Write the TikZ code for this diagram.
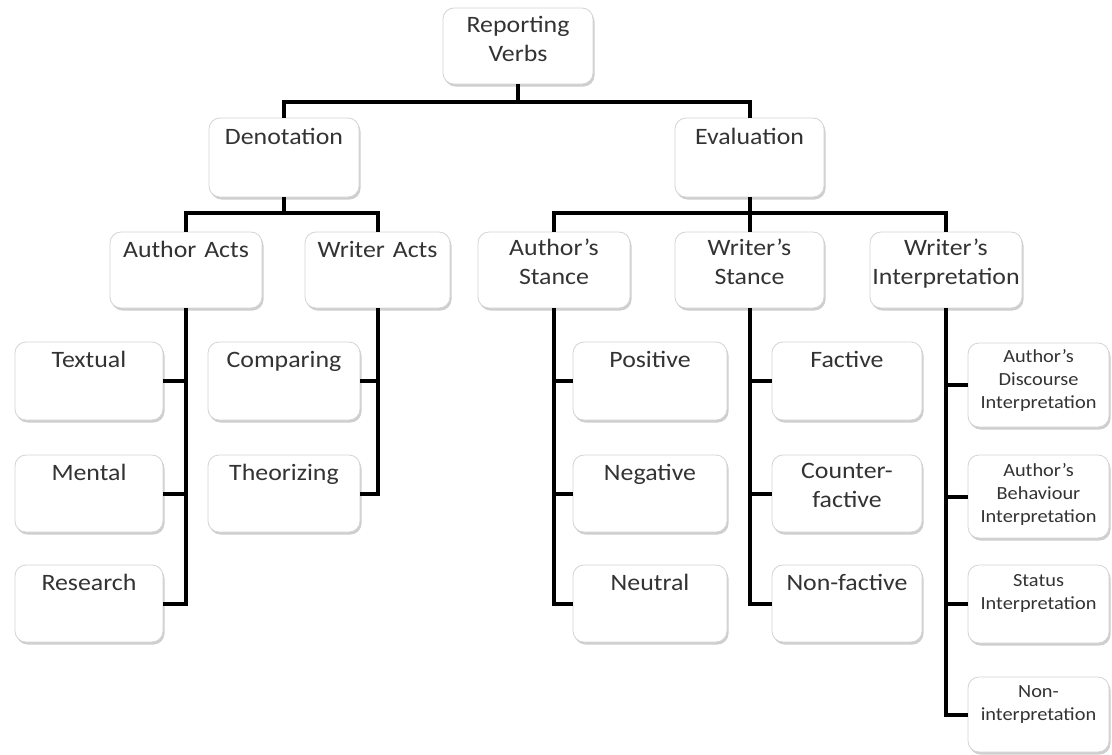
\documentclass[tikz,border=0pt]{standalone}
\usepackage{fontspec}
\setmainfont{Carlito}[FakeStretch=1.1]
\usetikzlibrary{shadows}
\definecolor{txtgray}{HTML}{333333}
\definecolor{boxline}{HTML}{D4D4D4}
\tikzset{
  rbox/.style={draw=boxline, line width=0.8pt, fill=white, rounded corners=11pt, inner sep=0pt,
    drop shadow={shadow xshift=1.5pt, shadow yshift=-2.5pt, opacity=0.35, fill=black!55}},
  bigtxt/.style={font=\fontsize{23.5}{29}\selectfont, text=txtgray, inner sep=0pt, anchor=base, align=center, text width=150pt},
  smalltxt/.style={font=\fontsize{18.5}{23}\selectfont, text=txtgray, inner sep=0pt, anchor=base, align=center, text width=142pt},
  conn/.style={line width=4pt, black},
}
\newcommand\rb[5]{\node[rbox, minimum width={#4-#2}, minimum height={#5-#3}] (#1) at ({(#2+#4)/2},{(#3+#5)/2}) {};}
\newcommand\sq{{\char"27}}
\begin{document}
\begin{tikzpicture}[x=1pt,y=-1pt]
\useasboundingbox (0,0) rectangle (1112,755);
% boxes
\rb{rv}{443}{8}{593}{84}
\rb{den}{209}{118}{359}{197}
\rb{eval}{675}{118}{824}{197}
\rb{aa}{110}{232}{262}{308}
\rb{wa}{305}{232}{450}{308}
\rb{as}{478}{232}{630}{308}
\rb{ws}{675}{232}{824}{308}
\rb{wi}{870}{232}{1022}{308}
\rb{tex}{15}{342}{163}{420}
\rb{men}{15}{455}{163}{532}
\rb{res}{15}{565}{163}{642}
\rb{com}{208}{342}{360}{420}
\rb{the}{208}{455}{360}{532}
\rb{pos}{573}{342}{727}{420}
\rb{neg}{573}{455}{727}{532}
\rb{neu}{573}{565}{727}{642}
\rb{fac}{772}{342}{922}{420}
\rb{cfa}{772}{455}{922}{532}
\rb{nfa}{772}{565}{922}{642}
\rb{adi}{968}{343}{1109}{427}
\rb{abi}{968}{455}{1109}{538}
\rb{sti}{968}{565}{1109}{643}
\rb{noi}{968}{677}{1109}{752}
% texts
\node[bigtxt] (t-rv) at ([yshift=-25pt]rv.north) {Reporting\\Verbs};
\node[bigtxt] (t-den) at ([yshift=-27pt]den.north) {Denotation};
\node[bigtxt] (t-eval) at ([yshift=-27pt]eval.north) {Evaluation};
\node[bigtxt] (t-aa) at ([yshift=-26pt]aa.north) {Author Acts};
\node[bigtxt] (t-wa) at ([yshift=-26pt]wa.north) {Writer Acts};
\node[bigtxt] (t-as) at ([yshift=-24pt]as.north) {Author’s\\Stance};
\node[bigtxt] (t-ws) at ([yshift=-24pt]ws.north) {Writer’s\\Stance};
\node[bigtxt] (t-wi) at ([yshift=-24pt]wi.north) {Writer’s\\Interpretation};
\node[bigtxt] (t-tex) at ([yshift=-26pt]tex.north) {Textual};
\node[bigtxt] (t-men) at ([yshift=-26pt]men.north) {Mental};
\node[bigtxt] (t-res) at ([yshift=-26pt]res.north) {Research};
\node[bigtxt] (t-com) at ([yshift=-26pt]com.north) {Comparing};
\node[bigtxt] (t-the) at ([yshift=-26pt]the.north) {Theorizing};
\node[bigtxt] (t-pos) at ([yshift=-26pt]pos.north) {Positive};
\node[bigtxt] (t-neg) at ([yshift=-26pt]neg.north) {Negative};
\node[bigtxt] (t-neu) at ([yshift=-26pt]neu.north) {Neutral};
\node[bigtxt] (t-fac) at ([yshift=-26pt]fac.north) {Factive};
\node[bigtxt] (t-cfa) at ([yshift=-24pt]cfa.north) {Counter-\\factive};
\node[bigtxt] (t-nfa) at ([yshift=-26pt]nfa.north) {Non-factive};
\node[smalltxt] (t-adi) at ([yshift=-20pt]adi.north) {Author\sq s\\Discourse\\Interpretation};
\node[smalltxt] (t-abi) at ([yshift=-22pt]abi.north) {Author\sq s\\Behaviour\\Interpretation};
\node[smalltxt] (t-sti) at ([yshift=-22pt]sti.north) {Status\\Interpretation};
\node[smalltxt] (t-noi) at ([yshift=-21pt]noi.north) {Non-\\interpretation};
% connectors
\draw[conn] (rv.south) -- ++(0,18) -| (den.north);
\draw[conn] (rv.south) -- ++(0,18) -| (eval.north);
\draw[conn] (den.south) -- ++(0,16) -| (aa.north);
\draw[conn] (den.south) -- ++(0,16) -| (wa.north);
\draw[conn] (eval.south) -- ++(0,16) -| (as.north);
\draw[conn] (eval.south) -- ++(0,16) -| (ws.north);
\draw[conn] (eval.south) -- ++(0,16) -| (wi.north);
\foreach \c in {tex,men,res} \draw[conn] (aa.south) |- (\c.east);
\foreach \c in {com,the} \draw[conn] (wa.south) |- (\c.east);
\foreach \c in {pos,neg,neu} \draw[conn] (as.south) |- (\c.west);
\foreach \c in {fac,cfa,nfa} \draw[conn] (ws.south) |- (\c.west);
\foreach \c in {adi,abi,sti,noi} \draw[conn] (wi.south) |- (\c.west);
\end{tikzpicture}
\end{document}
